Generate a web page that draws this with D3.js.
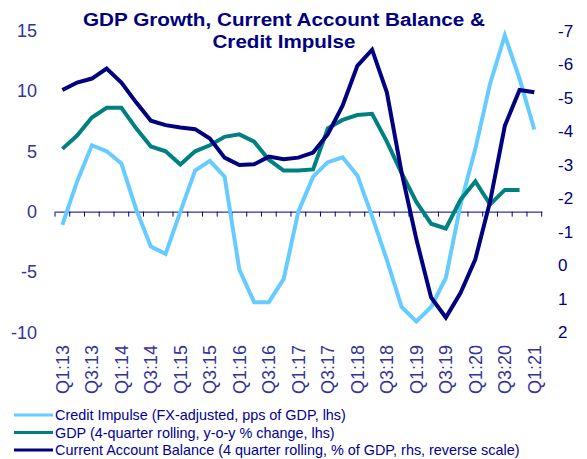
<!DOCTYPE html>
<html lang="en">
<head>
<meta charset="utf-8">
<title>GDP Growth, Current Account Balance & Credit Impulse</title>
<script src="https://d3js.org/d3.v7.min.js"></script>
<style>
    body { margin: 0; background: white; }
    text { font-family: "Liberation Sans", Arial, sans-serif; }
</style>
</head>
<body>
<div id="chart"></div>
<script>
    var quarters = ["Q1:13", "Q2:13", "Q3:13", "Q4:13", "Q1:14", "Q2:14", "Q3:14", "Q4:14",
        "Q1:15", "Q2:15", "Q3:15", "Q4:15", "Q1:16", "Q2:16", "Q3:16", "Q4:16",
        "Q1:17", "Q2:17", "Q3:17", "Q4:17", "Q1:18", "Q2:18", "Q3:18", "Q4:18",
        "Q1:19", "Q2:19", "Q3:19", "Q4:19", "Q1:20", "Q2:20", "Q3:20", "Q4:20", "Q1:21"];

    // lhs, % / pps of GDP
    var creditImpulse = [-1.1, 2.5, 5.5, 5.0, 4.0, 0.2, -2.9, -3.5,
        0.0, 3.4, 4.2, 2.9, -4.8, -7.5, -7.5, -5.6,
        0.0, 2.9, 4.1, 4.5, 3.0, -0.4, -4.0, -7.9,
        -9.1, -7.9, -5.5, 0.6, 5.2, 10.6, 14.6, 11.0, 6.8];

    // lhs, y-o-y % change (no value yet for Q1:21)
    var gdp = [5.2, 6.3, 7.8, 8.6, 8.6, 6.9, 5.4, 5.0,
        3.9, 5.0, 5.5, 6.2, 6.4, 5.8, 4.3, 3.4,
        3.4, 3.5, 6.9, 7.6, 8.0, 8.1, 5.8, 3.2,
        0.8, -1.0, -1.4, 1.0, 2.5, 0.6, 1.8, 1.8, null];

    // rhs, reverse scale
    var currentAccount = [-5.23, -5.45, -5.57, -5.87, -5.45, -4.86, -4.31, -4.18,
        -4.11, -4.06, -3.78, -3.21, -2.99, -3.01, -3.24, -3.16,
        -3.21, -3.36, -3.91, -4.76, -5.95, -6.43, -5.16, -2.77,
        -0.78, 0.96, 1.56, 0.82, -0.18, -1.9, -4.16, -5.23, -5.16];

    var leftTicks = [15, 10, 5, 0, -5, -10];
    var rightTicks = [-7, -6, -5, -4, -3, -2, -1, 0, 1, 2];
    var xLabels = quarters.filter(function (d, i) { return i % 2 == 0; });
    var titleLines = ["GDP Growth, Current Account Balance &", "Credit Impulse"];

    var series = [
        { name: "Credit Impulse (FX-adjusted, pps of GDP, lhs)", values: creditImpulse, axis: "left", color: "#66ccff" },
        { name: "GDP (4-quarter rolling, y-o-y % change, lhs)", values: gdp, axis: "left", color: "#008080" },
        { name: "Current Account Balance (4 quarter rolling, % of GDP, rhs, reverse scale)", values: currentAccount, axis: "right", color: "#000080" }
    ];

    var W = 587, H = 459;
    var plot = { left: 55, right: 541.7, top: 30.6, bottom: 332.3 };

    var svg = d3.select("#chart")
        .append("svg")
        .attr("width", W)
        .attr("height", H);

    var x = d3.scaleBand()
        .domain(quarters)
        .range([plot.left, plot.right]);

    var yL = d3.scaleLinear()
        .domain([-10, 15])
        .range([plot.bottom, plot.top]);

    var yR = d3.scaleLinear()
        .domain([2, -7])
        .range([plot.bottom, plot.top]);

    // title (the original is a bit stretched sideways)
    var titleWidths = [402, 143];
    svg.append("g")
        .selectAll("text")
        .data(titleLines)
        .enter()
        .append("text")
        .attr("x", 284)
        .attr("y", function (d, i) { return 26 + i * 22; })
        .attr("text-anchor", "middle")
        .attr("textLength", function (d, i) { return titleWidths[i]; })
        .attr("lengthAdjust", "spacingAndGlyphs")
        .style("font-weight", "bold")
        .style("font-size", "18px")
        .attr("fill", "#000080")
        .text(function (d) { return d; });

    // left axis labels
    svg.append("g")
        .selectAll("text")
        .data(leftTicks)
        .enter()
        .append("text")
        .attr("x", 37)
        .attr("y", function (d) { return yL(d); })
        .attr("dy", "0.36em")
        .attr("text-anchor", "end")
        .style("font-size", "18px")
        .attr("fill", "#333399")
        .text(function (d) { return d; });

    // right axis labels
    svg.append("g")
        .selectAll("text")
        .data(rightTicks)
        .enter()
        .append("text")
        .attr("x", 558)
        .attr("y", function (d) { return yR(d); })
        .attr("dy", "0.36em")
        .attr("text-anchor", "start")
        .style("font-size", "17px")
        .attr("fill", "#000080")
        .text(function (d) { return d; });

    // x axis at zero with ticks on band edges
    var xAxis = svg.append("g")
        .attr("transform", "translate(0," + yL(0) + ")")
        .call(d3.axisBottom(x).tickSizeInner(0).tickSizeOuter(0).tickFormat(""));
    xAxis.select(".domain").attr("stroke", "#000080");
    xAxis.selectAll(".tick").remove();
    var edges = quarters.map(function (d) { return x(d); }).concat([plot.right]);
    xAxis.selectAll("line.edge")
        .data(edges)
        .enter()
        .append("line")
        .attr("class", "edge")
        .attr("x1", function (d) { return d; })
        .attr("x2", function (d) { return d; })
        .attr("y1", 0)
        .attr("y2", 5)
        .attr("stroke", "#000080");

    // category labels at the bottom of the plot
    svg.append("g")
        .selectAll("text")
        .data(xLabels)
        .enter()
        .append("text")
        .attr("transform", function (d) {
            return "translate(" + (x(d) + x.bandwidth() / 2) + ",345) rotate(-90)";
        })
        .attr("dy", "0.36em")
        .attr("text-anchor", "end")
        .style("font-size", "18px")
        .attr("fill", "#333399")
        .text(function (d) { return d; });

    // lines
    series.forEach(function (s) {
        var y = s.axis == "left" ? yL : yR;
        var line = d3.line()
            .defined(function (d) { return d != null; })
            .x(function (d, i) { return x(quarters[i]) + x.bandwidth() / 2; })
            .y(function (d) { return y(d); });
        svg.append("path")
            .datum(s.values)
            .attr("fill", "none")
            .attr("stroke", s.color)
            .attr("stroke-width", 4)
            .attr("stroke-linejoin", "miter")
            .attr("d", line);
    });

    // legend
    var legend = svg.append("g")
        .selectAll("g")
        .data(series)
        .enter()
        .append("g")
        .attr("transform", function (d, i) { return "translate(0," + (415 + i * 17.5) + ")"; });
    legend.append("line")
        .attr("x1", 14)
        .attr("x2", 53)
        .attr("stroke", function (d) { return d.color; })
        .attr("stroke-width", 3);
    legend.append("text")
        .attr("x", 55)
        .attr("dy", "0.36em")
        .style("font-size", "14.4px")
        .attr("fill", "#000099")
        .text(function (d) { return d.name; });
</script>
</body>
</html>
